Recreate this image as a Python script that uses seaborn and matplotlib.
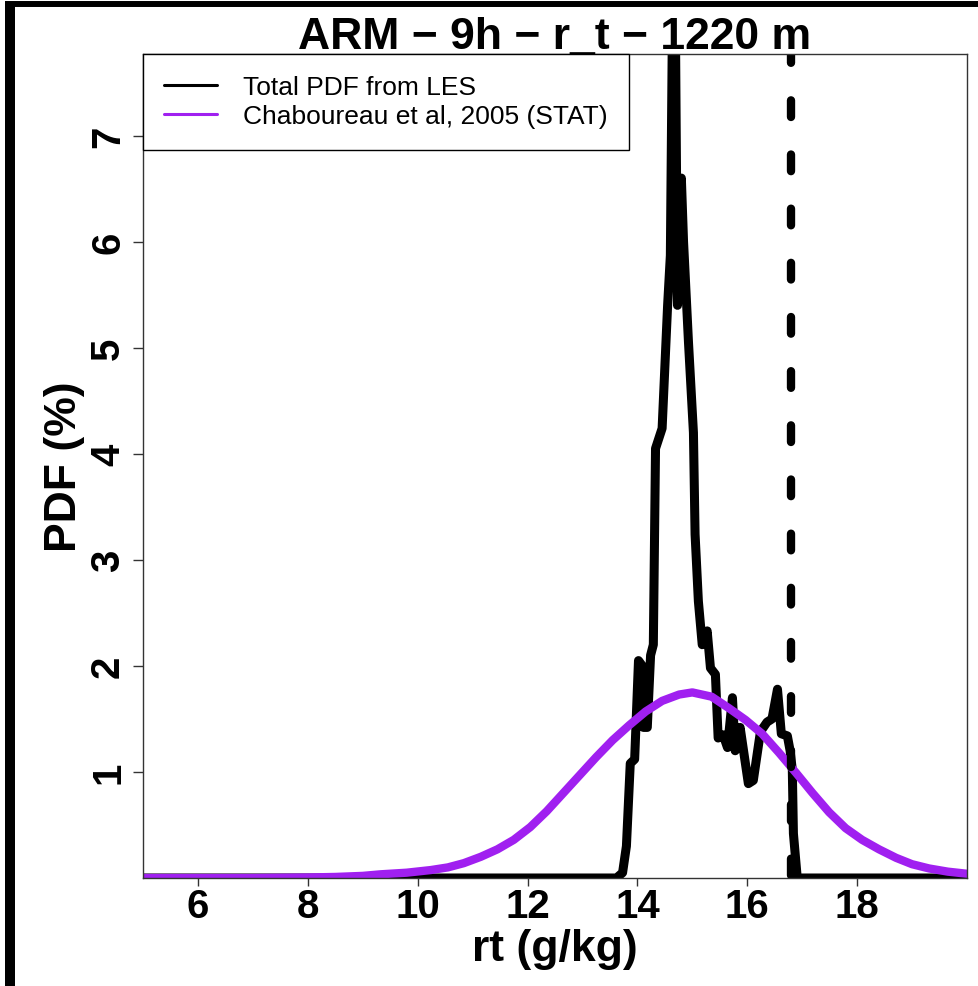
import matplotlib
matplotlib.use("Agg")
import matplotlib.pyplot as plt
from matplotlib.lines import Line2D
import seaborn as sns
import pandas as pd

# ---- data ----
les_x = [5.0, 13.62, 13.73, 13.80, 13.87, 13.95, 14.02, 14.09, 14.11, 14.18, 14.24, 14.29,
         14.33, 14.45, 14.55, 14.60, 14.64, 14.69, 14.73, 14.80, 14.84, 14.93, 15.02, 15.05,
         15.11, 15.18, 15.27, 15.33, 15.42, 15.47, 15.56, 15.64, 15.73, 15.78, 15.87, 16.02,
         16.11, 16.24, 16.36, 16.45, 16.55, 16.62, 16.73, 16.78, 16.82, 16.84, 16.91, 20.0]
les_y = [0.0, 0.0, 0.05, 0.3, 1.08, 1.12, 2.05, 2.0, 1.42, 1.42, 2.1, 2.2,
         4.05, 4.24, 5.4, 5.87, 8.2, 8.2, 5.4, 6.6, 6.0, 5.05, 4.2, 3.24,
         2.61, 2.2, 2.33, 1.98, 1.92, 1.32, 1.35, 1.23, 1.7, 1.2, 1.42, 0.89,
         0.92, 1.38, 1.47, 1.5, 1.78, 1.36, 1.34, 1.2, 1.02, 0.42, 0.0, 0.0]

stat_x = [5.0, 7.0, 8.0, 8.5, 9.0, 9.33, 9.8, 10.24, 10.55, 10.84, 11.15, 11.45, 11.75,
          12.05, 12.35, 12.65, 12.95, 13.25, 13.55, 13.85, 14.15, 14.45, 14.76, 15.0,
          15.35, 15.67, 15.97, 16.27, 16.58, 16.89, 17.19, 17.49, 17.79, 18.09, 18.4,
          18.71, 19.0, 19.31, 19.65, 20.0]
stat_y = [0.0, 0.0, 0.005, 0.01, 0.02, 0.035, 0.05, 0.075, 0.1, 0.14, 0.2, 0.27, 0.36,
          0.48, 0.63, 0.80, 0.97, 1.14, 1.30, 1.44, 1.57, 1.67, 1.73, 1.75,
          1.71, 1.60, 1.49, 1.36, 1.18, 0.99, 0.80, 0.62, 0.47, 0.36, 0.27,
          0.19, 0.13, 0.09, 0.06, 0.04]

threshold_x = 16.8

x_ticks = [6, 8, 10, 12, 14, 16, 18]
y_ticks = [1, 2, 3, 4, 5, 6, 7]
labels = ["Total PDF from LES", "Chaboureau et al, 2005 (STAT)"]
colors = ["black", "#A020F0"]

# ---- style ----
sns.set_theme(style="white")
plt.rcParams["font.family"] = ["Liberation Sans", "DejaVu Sans"]
plt.rcParams["text.color"] = "black"
plt.rcParams["axes.labelcolor"] = "black"

W, H = 979, 987
fig = plt.figure(figsize=(W / 100, H / 100), dpi=100)
ax = fig.add_axes([143 / W, 1 - 879 / H, (967 - 143) / W, (879 - 55) / H])

df_les = pd.DataFrame({"x": les_x, "y": les_y})
df_stat = pd.DataFrame({"x": stat_x, "y": stat_y})

sns.lineplot(data=df_les, x="x", y="y", ax=ax, color=colors[0], lw=6.5,
             sort=False, estimator=None, legend=False,
             solid_capstyle="round", solid_joinstyle="round")
sns.lineplot(data=df_stat, x="x", y="y", ax=ax, color=colors[1], lw=6.0,
             sort=False, estimator=None, legend=False,
             solid_capstyle="round", solid_joinstyle="round")
ax.axvline(threshold_x, color="black", lw=6.0, linestyle=(6.18, (2.0, 4.5)),
           dash_capstyle="round")

ax.set_xlim(5, 20)
ax.set_ylim(0, 7.77)
ax.set_xticks(x_ticks)
ax.set_yticks(y_ticks)
ax.set_xticklabels([str(v) for v in x_ticks], fontweight="bold")
ax.set_yticklabels([str(v) for v in y_ticks], fontweight="bold", rotation=90, va="center")

ax.tick_params(axis="x", direction="out", length=6, width=1, colors="#333333",
               labelcolor="black", labelsize=29, pad=0.5, bottom=True)
ax.tick_params(axis="y", direction="out", length=7.5, width=1, colors="#333333",
               labelcolor="black", labelsize=29, pad=4, left=True)

for s in ax.spines.values():
    s.set_color("#333333")
    s.set_linewidth(1)

ax.set_title("ARM \u2212 9h \u2212 r_t \u2212 1220 m", fontsize=32, fontweight="bold",
             pad=4.5, color="black")
ax.set_xlabel("rt (g/kg)", fontsize=32, fontweight="bold", labelpad=2, color="black")
ax.set_ylabel("PDF (%)", fontsize=32, fontweight="bold", labelpad=3, color="black")

handles = [Line2D([0], [0], color=c, lw=2.2) for c in colors]
leg = ax.legend(handles, labels, loc="upper left", bbox_to_anchor=(0, 1),
                borderaxespad=0, fontsize=19, frameon=True, fancybox=False,
                framealpha=1, edgecolor="black", handlelength=2.0,
                handletextpad=1.0, borderpad=0.8, labelspacing=0.2)
leg.get_frame().set_linewidth(1)
for t in leg.get_texts():
    t.set_color("black")

# outer figure border (left and top visible)
fig.add_artist(Line2D([10 / W, 10 / W], [0, 1 - 4.5 / H], color="black", lw=7.2,
                      transform=fig.transFigure, solid_capstyle="butt"))
fig.add_artist(Line2D([5 / W, 1], [1 - 4.5 / H, 1 - 4.5 / H], color="black", lw=4.3,
                      transform=fig.transFigure, solid_capstyle="butt"))

fig.savefig("out.png", dpi=100)
